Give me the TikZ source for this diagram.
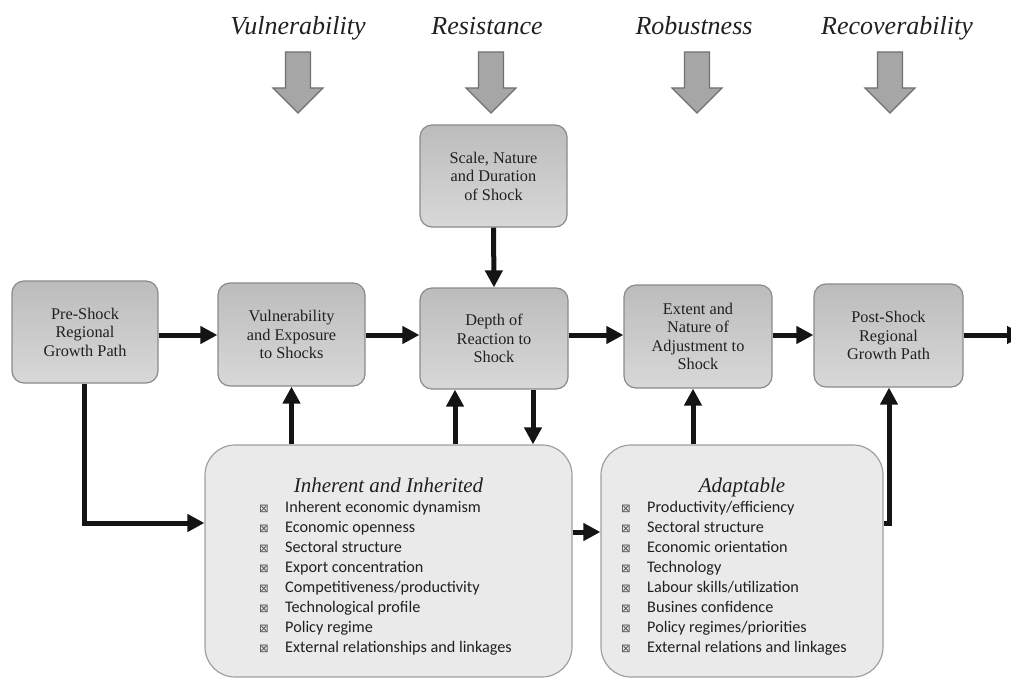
\documentclass[tikz,border=0pt]{standalone}
\usepackage{fontspec}
\setmainfont{Liberation Serif}
\newfontfamily\calib{Carlito}
\newfontfamily\djv{DejaVu Sans}
\usetikzlibrary{arrows.meta}
\definecolor{lineblk}{HTML}{141414}
\definecolor{boxedge}{HTML}{8A8A8A}
\definecolor{boxtop}{HTML}{BCBCBC}
\definecolor{boxbot}{HTML}{D8D8D8}
\definecolor{bigfill}{HTML}{EAEAEA}
\definecolor{bigedge}{HTML}{A0A0A0}
\definecolor{arrfill}{HTML}{A6A6A6}
\definecolor{arredge}{HTML}{707070}
\definecolor{txt}{HTML}{202020}
\newcommand{\bulglyph}{{\djv\fontsize{11.5}{11.5}\selectfont\color{gray!60!black}⊠}}
\tikzset{
  smallbox/.style={draw=boxedge, line width=1.2pt, rounded corners=12pt,
    top color=boxtop, bottom color=boxbot, inner sep=0pt, align=center,
    text=txt, font=\fontsize{16.3}{18.5}\selectfont},
  bigbox/.style={draw=bigedge, line width=1.2pt, rounded corners=30pt,
    fill=bigfill, inner sep=0pt},
  conn/.style={draw=lineblk, line width=5pt,
    -{Triangle[length=17pt,width=17pt]}},
  toplabel/.style={anchor=base, text=txt, font=\itshape\fontsize{26}{30}\selectfont},
  heading/.style={anchor=base, text=txt, font=\itshape\fontsize{21}{24}\selectfont},
  itemtxt/.style={anchor=base west, inner sep=0pt, text=txt, font=\calib\fontsize{16.2}{20}\selectfont},
  downarr/.pic={\draw[fill=arrfill, draw=arredge, line width=1.2pt, line join=miter]
    (-12.5,0) -- (12.5,0) -- (12.5,36) -- (25,36) -- (0,61) -- (-25,36) -- (-12.5,36) -- cycle;}
}
\begin{document}
\begin{tikzpicture}[x=1pt,y=-1pt]
\useasboundingbox (0,0) rectangle (1011,679);

% top labels and gray arrows
\node[toplabel] (lv) at (298,35) {Vulnerability};
\node[toplabel] (lr) at (487,35) {Resistance};
\node[toplabel] (lb) at (694,35) {Robustness};
\node[toplabel] (lc) at (897,35) {Recoverability};
\pic at (298,52) {downarr};
\pic at (491,52) {downarr};
\pic at (697,52) {downarr};
\pic at (890,52) {downarr};

% small boxes
\node[smallbox, minimum width=146pt, minimum height=102pt] (pre) at (85,332) {Pre-Shock\\Regional\\Growth Path};
\node[smallbox, minimum width=147pt, minimum height=103pt] (vul) at (291.5,334.5) {Vulnerability\\and Exposure\\to Shocks};
\node[smallbox, minimum width=147pt, minimum height=102pt] (scale) at (493.5,176) {Scale, Nature\\and Duration\\of Shock};
\node[smallbox, minimum width=148pt, minimum height=101pt] (depth) at (494,338.5) {Depth of\\Reaction to\\Shock};
\node[smallbox, minimum width=148pt, minimum height=103pt] (ext) at (698,336.5) {Extent and\\Nature of\\Adjustment to\\Shock};
\node[smallbox, minimum width=149pt, minimum height=103pt] (post) at (888.5,335.5) {Post-Shock\\Regional\\Growth Path};

% big boxes
\node[bigbox, minimum width=367pt, minimum height=232pt] (inh) at (388.5,561) {};
\node[bigbox, minimum width=282pt, minimum height=232pt] (adp) at (742,561) {};

\node[heading] (inhh) at (388.5,492) {Inherent and Inherited};
\node[heading] (adph) at (742,492) {Adaptable};

\foreach \t [count=\i] in {Inherent economic dynamism, Economic openness, Sectoral structure,
  Export concentration, Competitiveness/productivity, Technological profile,
  Policy regime, External relationships and linkages}
  \node[itemtxt] (inhi\i) at (259,{512+20*(\i-1)}) {\makebox[26pt][l]{\bulglyph}\t};

\foreach \t [count=\i] in {Productivity/efficiency, Sectoral structure, Economic orientation,
  Technology, Labour skills/utilization, Busines confidence,
  Policy regimes/priorities, External relations and linkages}
  \node[itemtxt] (adpi\i) at (621,{512+20*(\i-1)}) {\makebox[26pt][l]{\bulglyph}\t};

% connectors
\coordinate (rowy) at (0,335);
\draw[conn] (pre.east |- rowy) -- (vul.west |- rowy);
\draw[conn] (vul.east |- rowy) -- (depth.west |- rowy);
\draw[conn] (depth.east |- rowy) -- (ext.west |- rowy);
\draw[conn] (ext.east |- rowy) -- (post.west |- rowy);
\coordinate (outend) at (1024,335);
\draw[conn] (post.east |- rowy) -- (outend);
\draw[conn] (scale.south) -- (depth.north);

\coordinate (j1) at (84,523);
\draw[conn, line join=miter] (pre.south -| j1) -- (j1) -- (inh.west |- j1);
\draw[conn] (inh.north -| vul.south) -- (vul.south);
\draw[conn] ([xshift=-39pt]depth.south |- inh.north) -- ([xshift=-39pt]depth.south);
\draw[conn] ([xshift=39pt]depth.south) -- ([xshift=39pt]depth.south |- inh.north);
\coordinate (j3) at (0,532);
\draw[conn] (inh.east |- j3) -- (adp.west |- j3);
\draw[conn] ([xshift=-5pt]ext.south |- adp.north) -- ([xshift=-5pt]ext.south);
\coordinate (j2) at (889,523);
\draw[conn, line join=miter] (adp.east |- j2) -- (j2) -- (post.south -| j2);
\end{tikzpicture}
\end{document}
